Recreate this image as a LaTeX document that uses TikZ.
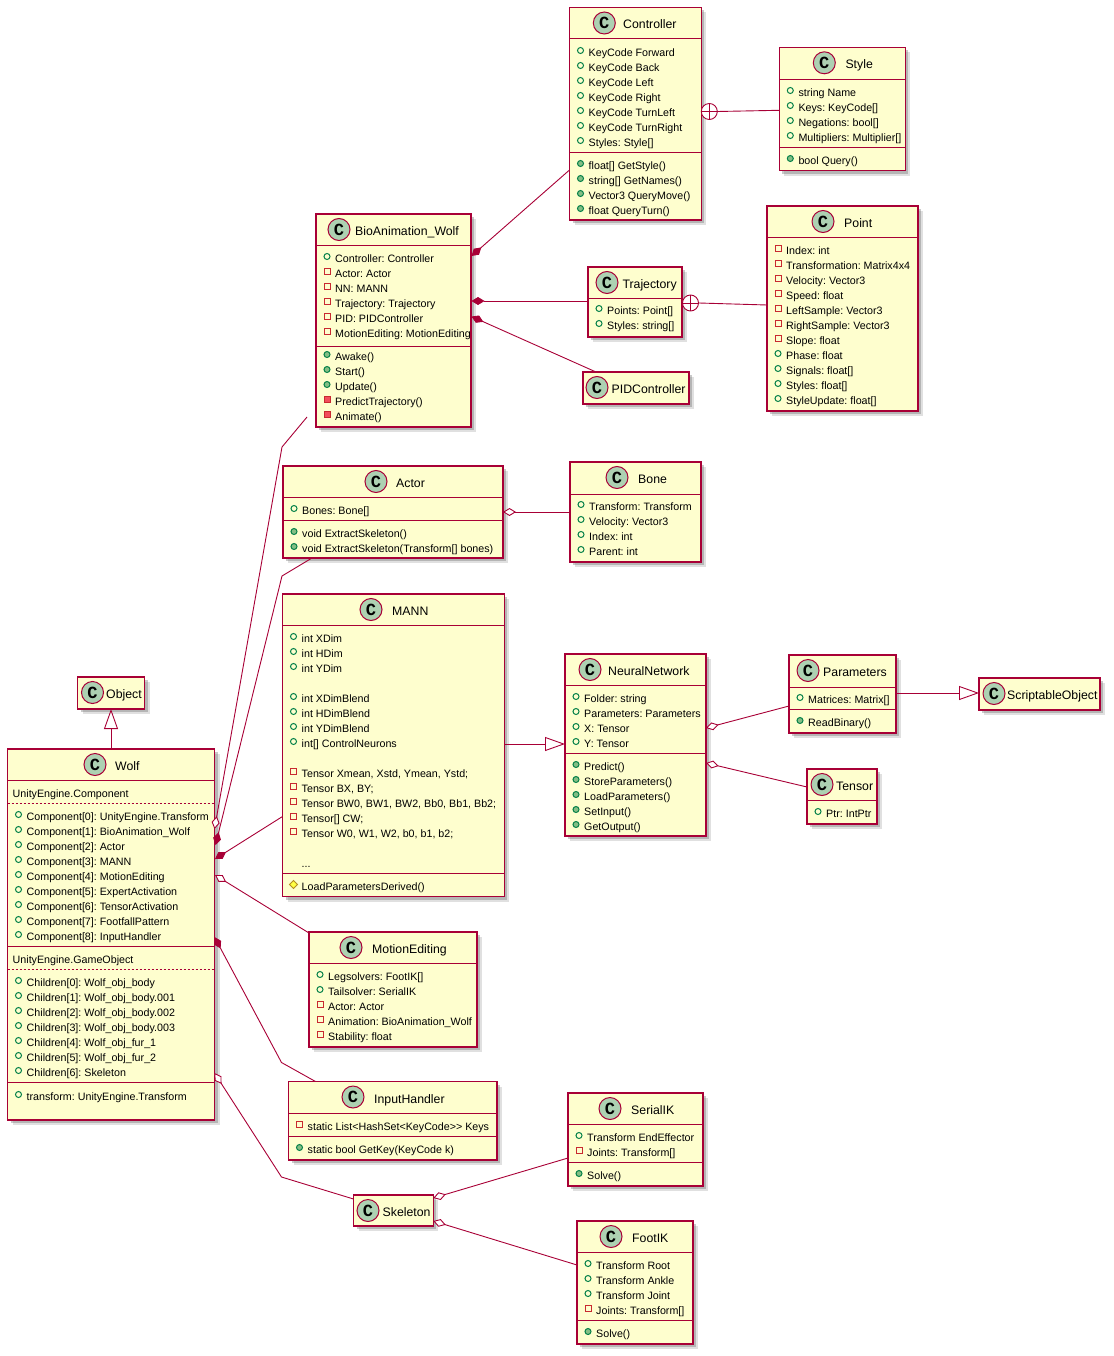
\documentclass[tikz,border=0pt]{standalone}
\usepackage{fontspec}
\setmainfont{Liberation Sans}
\newfontfamily\iconfont{Liberation Mono}
\usetikzlibrary{shadows,arrows.meta,calc}
\definecolor{umlred}{HTML}{A80036}
\definecolor{umlfill}{HTML}{FEFECE}
\definecolor{iconfill}{HTML}{ADD1B2}
\definecolor{pubstroke}{HTML}{038048}
\definecolor{pubfill}{HTML}{84BE84}
\definecolor{privstroke}{HTML}{C82930}
\definecolor{privfill}{HTML}{F24D5C}
\definecolor{protstroke}{HTML}{B38D22}
\definecolor{protfill}{HTML}{FFFF44}
\tikzset{
  umlbox/.style={draw=umlred,fill=umlfill,line width=1.1pt,inner sep=0pt,outer sep=0pt,anchor=north west,
    drop shadow={shadow xshift=3pt,shadow yshift=-3pt,opacity=.3,fill=black!70},
    drop shadow={shadow xshift=5pt,shadow yshift=-5pt,opacity=.2,fill=black!60}},
  iconstyle/.style={circle,draw=umlred,fill=iconfill,line width=1pt,minimum size=22pt,inner sep=0pt,font=\iconfont\bfseries\fontsize{17}{17}\selectfont},
  titlestyle/.style={anchor=base west,inner sep=0pt,font=\fontsize{12.3}{14}\selectfont\frenchspacing},
  rowstyle/.style={anchor=base west,inner sep=0pt,font=\fontsize{10.7}{13}\selectfont\frenchspacing},
  sepline/.style={draw=umlred,line width=1pt},
  dashsep/.style={draw=umlred,line width=.6pt,dash pattern=on 2pt off 2pt},
  conn/.style={draw=umlred,line width=.9pt},
  odia/.style={{Diamond[fill=white,length=13pt,width=8pt,line width=.9pt]}-},
  fdia/.style={{Diamond[fill=umlred,length=13pt,width=8pt,line width=.9pt]}-},
  tri/.style={-{Triangle[fill=white,length=20pt,width=14pt,line width=.9pt]}},
  nestcirc/.style={circle,draw=umlred,fill=white,line width=.9pt,minimum size=16pt,inner sep=0pt},
}
\newcounter{rowc}
\newcommand\cls[8]{%
  \def\curL{#2}\def\curR{#4}\def\curT{#3}%
  \node[umlbox,minimum width={(#4-#2)*1pt},minimum height={(#5-#3)*1pt}] (#1) at (#2,#3) {};
  \node[iconstyle] (#1icon) at (#7,{#3+15.5}) {C};
  \node[titlestyle] (#1title) at (#8,{#3+21.5}) {#6};
}
\newcommand\rowtext[2]{\stepcounter{rowc}\node[rowstyle] (row\therowc) at ({\curL+19},{#1+4.3}) {#2};}
\newcommand\plainrow[2]{\stepcounter{rowc}\node[rowstyle] (row\therowc) at ({\curL+5},{#1+4.3}) {#2};}
\newcommand\rpf[2]{\draw[pubstroke,line width=1pt] ({\curL+11},{#1-1.5}) circle (3pt);\rowtext{#1}{#2}}
\newcommand\rpm[2]{\draw[pubstroke,fill=pubfill,line width=1pt] ({\curL+11},{#1-1.5}) circle (3pt);\rowtext{#1}{#2}}
\newcommand\rvf[2]{\draw[privstroke,line width=1pt] ({\curL+8},{#1-4.5}) rectangle ++(6,6);\rowtext{#1}{#2}}
\newcommand\rvm[2]{\draw[privstroke,fill=privfill,line width=1pt] ({\curL+8},{#1-4.5}) rectangle ++(6,6);\rowtext{#1}{#2}}
\newcommand\rprm[2]{\draw[protstroke,fill=protfill,line width=1pt] ({\curL+11},{#1-5.5}) -- ++(4,4) -- ++(-4,4) -- ++(-4,-4) -- cycle;\rowtext{#1}{#2}}
\newcommand\sepl[1]{\draw[sepline] (\curL,#1) -- (\curR,#1);}
\newcommand\dsepl[1]{\draw[dashsep] (\curL,#1) -- (\curR,#1);}
\begin{document}
\begin{tikzpicture}[x=1pt,y=-1pt]
\useasboundingbox (0,0) rectangle (1113,1356);
% Controller
\cls{controller}{569.5}{7.5}{701.3}{220}{Controller}{604.3}{623}
\sepl{39}
\rpf{52}{KeyCode Forward}\rpf{67}{KeyCode Back}\rpf{82}{KeyCode Left}\rpf{97}{KeyCode Right}\rpf{112}{KeyCode TurnLeft}\rpf{127}{KeyCode TurnRight}\rpf{142}{Styles: Style[]}
\sepl{152.7}
\rpm{165}{float[] GetStyle()}\rpm{180}{string[] GetNames()}\rpm{195}{Vector3 QueryMove()}\rpm{210}{float QueryTurn()}
% Style
\cls{style}{779.3}{47.3}{905.3}{170.7}{Style}{824.3}{845.3}
\sepl{79.3}
\rpf{92}{string Name}\rpf{107}{Keys: KeyCode[]}\rpf{122}{Negations: bool[]}\rpf{137}{Multipliers: Multiplier[]}
\sepl{147.3}
\rpm{160}{bool Query()}
% Point
\cls{point}{767}{206}{918}{411}{Point}{823}{844}
\sepl{238}
\rvf{250}{Index: int}\rvf{265}{Transformation: Matrix4x4}\rvf{280}{Velocity: Vector3}\rvf{295}{Speed: float}\rvf{310}{LeftSample: Vector3}\rvf{325}{RightSample: Vector3}\rvf{340}{Slope: float}\rpf{355}{Phase: float}\rpf{370}{Signals: float[]}\rpf{385}{Styles: float[]}\rpf{400}{StyleUpdate: float[]}
% BioAnimation_Wolf
\cls{bio}{316}{214}{471}{427}{BioAnimation\_Wolf}{339}{355}
\sepl{246}
\rpf{258}{Controller: Controller}\rvf{273}{Actor: Actor}\rvf{288}{NN: MANN}\rvf{303}{Trajectory: Trajectory}\rvf{318}{PID: PIDController}\rvf{333}{MotionEditing: MotionEditing}
\sepl{346}
\rpm{356}{Awake()}\rpm{371}{Start()}\rpm{386}{Update()}\rvm{401}{PredictTrajectory()}\rvm{416}{Animate()}
% Trajectory
\cls{trajectory}{588}{267}{682}{337}{Trajectory}{607}{622.3}
\sepl{298}
\rpf{310}{Points: Point[]}\rpf{325}{Styles: string[]}
% PIDController
\cls{pid}{583}{372}{689}{404}{PIDController}{597}{611.5}
% Actor
\cls{actor}{283}{466}{503}{558}{Actor}{376}{396}
\sepl{497}
\rpf{510}{Bones: Bone[]}
\sepl{520}
\rpm{533}{void ExtractSkeleton()}\rpm{548}{void ExtractSkeleton(Transform[] bones)}
% Bone
\cls{bone}{570}{462}{701}{562}{Bone}{617}{638}
\sepl{494}
\rpf{506}{Transform: Transform}\rpf{521}{Velocity: Vector3}\rpf{536}{Index: int}\rpf{551}{Parent: int}
% MANN
\cls{mann}{282.5}{594}{504.3}{896.7}{MANN}{371}{392}
\sepl{625.3}
\rpf{638}{int XDim}\rpf{653}{int HDim}\rpf{668}{int YDim}
\rpf{698}{int XDimBlend}\rpf{713}{int HDimBlend}\rpf{728}{int YDimBlend}\rpf{743}{int[] ControlNeurons}
\rvf{773}{Tensor Xmean, Xstd, Ymean, Ystd;}\rvf{788}{Tensor BX, BY;}\rvf{803}{Tensor BW0, BW1, BW2, Bb0, Bb1, Bb2;}\rvf{818}{Tensor[] CW;}\rvf{833}{Tensor W0, W1, W2, b0, b1, b2;}
\rowtext{863}{...}
\sepl{873.7}
\rprm{886}{LoadParametersDerived()}
% NeuralNetwork
\cls{nn}{565}{654}{706}{836}{NeuralNetwork}{590}{608}
\sepl{685}
\rpf{698}{Folder: string}\rpf{713}{Parameters: Parameters}\rpf{728}{X: Tensor}\rpf{743}{Y: Tensor}
\sepl{753}
\rpm{766}{Predict()}\rpm{781}{StoreParameters()}\rpm{796}{LoadParameters()}\rpm{811}{SetInput()}\rpm{826}{GetOutput()}
% Parameters
\cls{params}{789}{655}{896}{733}{Parameters}{808}{823}
\sepl{687}
\rpf{699}{Matrices: Matrix[]}
\sepl{709}
\rpm{722}{ReadBinary()}
% ScriptableObject
\cls{scriptable}{979}{678}{1100}{710}{ScriptableObject}{994}{1007}
% Tensor
\cls{tensor}{807}{769}{877}{824}{Tensor}{822}{836}
\sepl{800}
\rpf{813}{Ptr: IntPtr}
% Object
\cls{object}{77.5}{677}{144.5}{709}{Object}{92.5}{106}
% Wolf
\cls{wolf}{7.5}{749}{214.5}{1120}{Wolf}{95}{115}
\sepl{780.3}
\plainrow{793}{UnityEngine.Component}
\dsepl{803.3}
\rpf{816}{Component[0]: UnityEngine.Transform}\rpf{831}{Component[1]: BioAnimation\_Wolf}\rpf{846}{Component[2]: Actor}\rpf{861}{Component[3]: MANN}\rpf{876}{Component[4]: MotionEditing}\rpf{891}{Component[5]: ExpertActivation}\rpf{906}{Component[6]: TensorActivation}\rpf{921}{Component[7]: FootfallPattern}\rpf{936}{Component[8]: InputHandler}
\sepl{946}
\plainrow{959}{UnityEngine.GameObject}
\dsepl{969}
\rpf{982}{Children[0]: Wolf\_obj\_body}\rpf{997}{Children[1]: Wolf\_obj\_body.001}\rpf{1012}{Children[2]: Wolf\_obj\_body.002}\rpf{1027}{Children[3]: Wolf\_obj\_body.003}\rpf{1042}{Children[4]: Wolf\_obj\_fur\_1}\rpf{1057}{Children[5]: Wolf\_obj\_fur\_2}\rpf{1072}{Children[6]: Skeleton}
\sepl{1082}
\rpf{1096}{transform: UnityEngine.Transform}
% MotionEditing
\cls{motion}{309}{932}{477}{1047}{MotionEditing}{351}{372}
\sepl{963}
\rpf{976}{Legsolvers: FootIK[]}\rpf{991}{Tailsolver: SerialIK}\rvf{1006}{Actor: Actor}\rvf{1021}{Animation: BioAnimation\_Wolf}\rvf{1036}{Stability: float}
% InputHandler
\cls{input}{288.5}{1081.5}{497}{1160}{InputHandler}{353}{374}
\sepl{1113}
\rvf{1126}{static List<HashSet<KeyCode>{}> Keys}
\sepl{1136}
\rpm{1149}{static bool GetKey(KeyCode k)}
% Skeleton
\cls{skeleton}{353.5}{1195}{433.3}{1226}{Skeleton}{368}{382.5}
% SerialIK
\cls{serial}{568}{1093}{703}{1186}{SerialIK}{610}{631}
\sepl{1124}
\rpf{1137}{Transform EndEffector}\rvf{1152}{Joints: Transform[]}
\sepl{1162}
\rpm{1175}{Solve()}
% FootIK
\cls{foot}{577}{1221}{693}{1344}{FootIK}{611}{632}
\sepl{1252}
\rpf{1265}{Transform Root}\rpf{1280}{Transform Ankle}\rpf{1295}{Transform Joint}\rvf{1310}{Joints: Transform[]}
\sepl{1320}
\rpm{1333}{Solve()}
% ---- connectors
\draw[conn,tri] (wolf.north -| object.south) -- (object.south);
\draw[conn,odia] ($(wolf.north east)+(0,80)$) -- ($(bio.north west)+(-34,233)$) -- ($(bio.north west)+(-9,203)$);
\draw[conn,fdia] ($(wolf.north east)+(1,96)$) -- ($(actor.south west)+(-1,18)$) -- ($(actor.south west)+(29,0)$);
\draw[conn,fdia] ($(wolf.north east)+(0.5,110)$) -- ($(mann.north west)+(0,222.5)$);
\draw[conn,odia] ($(wolf.north east)+(0.5,126)$) -- ($(motion.north west)+(0,1)$);
\draw[conn,fdia] ($(wolf.north east)+(0,188)$) -- ($(input.north west)+(-7,-19)$) -- ($(input.north west)+(27,0)$);
\draw[conn,odia] ($(wolf.north east)+(0,324)$) -- ($(skeleton.north west)+(-72,-18)$) -- ($(skeleton.north west)+(0,4)$);
\draw[conn,fdia] ($(bio.north east)+(0.5,42)$) -- ($(controller.south west)+(0,-50)$);
\draw[conn,fdia] ($(bio.north east)+(0.5,87)$) -- ($(trajectory.north west)+(0,34)$);
\draw[conn,fdia] ($(bio.north east)+(0.5,102.5)$) -- ($(pid.north west)+(13,0)$);
\node[nestcirc] (ctrlnest) at ($(controller.north east)+(8,104)$) {};
\draw[conn] (ctrlnest.north) -- (ctrlnest.south) (ctrlnest.west) -- (ctrlnest.east);
\draw[conn] (ctrlnest.east) -- ($(style.north west)+(0,63)$);
\node[nestcirc] (trajnest) at ($(trajectory.north east)+(8.5,36)$) {};
\draw[conn] (trajnest.north) -- (trajnest.south) (trajnest.west) -- (trajnest.east);
\draw[conn] (trajnest.east) -- ($(point.north west)+(0,99)$);
\draw[conn,odia] ($(actor.north east)+(0,46)$) -- ($(bone.north west)+(0,50)$);
\draw[conn,tri] ($(mann.north east)+(0,150)$) -- ($(nn.north west)+(0,90)$);
\draw[conn,odia] ($(nn.north east)+(0,74)$) -- ($(params.north west)+(0,51)$);
\draw[conn,odia] ($(nn.north east)+(0,109)$) -- ($(tensor.north west)+(0,18)$);
\draw[conn,tri] ($(params.north east)+(0,38)$) -- ($(scriptable.north west)+(0,15)$);
\draw[conn,odia] ($(skeleton.north east)+(0,3)$) -- ($(serial.north west)+(0,65)$);
\draw[conn,odia] ($(skeleton.north east)+(0,26)$) -- ($(foot.north west)+(0,44)$);
\end{tikzpicture}
\end{document}
